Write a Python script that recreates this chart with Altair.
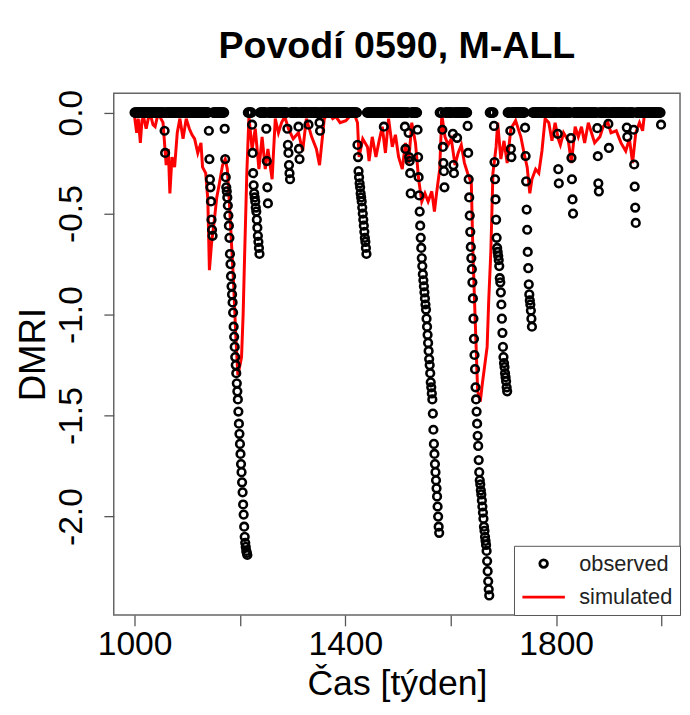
import altair as alt
import pandas as pd

TITLE = "Povodí 0590, M-ALL"
X_TITLE = "Čas [týden]"
Y_TITLE = "DMRI"
SERIES = ["observed", "simulated"]
SERIES_COLORS = ["black", "red"]
X_TICKS = [1000, 1200, 1400, 1600, 1800, 2000]
X_TICKS_LABELED = [1000, 1400, 1800]
Y_TICKS = [-2.0, -1.5, -1.0, -0.5, 0.0]

# observed DMRI: weekly, 0 outside the drought episodes listed below
obs_first_week = 1000
obs_last_week = 1999
episode_start = [1057, 1141, 1171, 1223, 1250, 1290, 1311, 1330, 1351, 1423,
                 1473, 1513, 1520, 1537, 1584, 1604, 1612, 1632, 1682, 1713,
                 1741, 1803, 1828, 1878, 1899, 1934, 1947, 1999]
episode_values = [
    [-0.09, -0.20],
    [-0.09, -0.23, -0.33, -0.37, -0.44, -0.53, -0.58, -0.61],
    [-0.08, -0.23, -0.32, -0.37, -0.39, -0.42, -0.46, -0.51, -0.56, -0.62, -0.70,
     -0.75, -0.81, -0.86, -0.90, -0.94, -0.99, -1.06, -1.11, -1.16, -1.21, -1.25,
     -1.29, -1.34, -1.38, -1.42, -1.48, -1.54, -1.59, -1.64, -1.69, -1.74, -1.78,
     -1.83, -1.88, -1.94, -1.99, -2.05, -2.10, -2.13, -2.15, -2.17, -2.18, -2.19],
    [-0.06, -0.20, -0.30, -0.36, -0.40, -0.42, -0.44, -0.47, -0.49, -0.53, -0.57,
     -0.61, -0.64, -0.67, -0.70],
    [-0.08, -0.24, -0.37, -0.45],
    [-0.08, -0.16, -0.20, -0.26, -0.30, -0.33],
    [-0.07, -0.18, -0.23],
    [-0.06],
    [-0.05, -0.09],
    [-0.16, -0.22, -0.29, -0.32, -0.35, -0.37, -0.40, -0.42, -0.44, -0.47, -0.50,
     -0.53, -0.56, -0.59, -0.62, -0.64, -0.67, -0.70],
    [-0.07],
    [-0.07, -0.18],
    [-0.10, -0.22, -0.24, -0.30, -0.40],
    [-0.085, -0.22, -0.32, -0.41, -0.49, -0.56, -0.62, -0.67, -0.72, -0.76, -0.80,
     -0.83, -0.86, -0.89, -0.92, -0.95, -0.975, -1.02, -1.06, -1.10, -1.14, -1.18,
     -1.22, -1.25, -1.29, -1.335, -1.36, -1.39, -1.42, -1.49, -1.57, -1.64, -1.69,
     -1.74, -1.78, -1.82, -1.86, -1.90, -1.95, -2.00, -2.05, -2.08],
    [-0.085, -0.17, -0.25, -0.29, -0.37],
    [-0.105, -0.26, -0.30],
    [-0.125],
    [-0.066, -0.20, -0.33, -0.42, -0.51, -0.59, -0.665, -0.72, -0.775, -0.84, -0.92,
     -1.02, -1.12, -1.20, -1.27, -1.36, -1.42, -1.48, -1.54, -1.60, -1.65, -1.72,
     -1.78, -1.82, -1.84, -1.87, -1.89, -1.92, -1.95, -1.98, -2.01, -2.05, -2.07,
     -2.10, -2.12, -2.14, -2.17, -2.22, -2.27, -2.32, -2.36, -2.39],
    [-0.066, -0.245, -0.33, -0.43, -0.53, -0.62, -0.67, -0.69, -0.71, -0.73, -0.76,
     -0.82, -0.84, -0.89, -0.95, -1.02, -1.09, -1.16, -1.21, -1.24, -1.26, -1.29,
     -1.31, -1.33, -1.36, -1.38],
    [-0.09, -0.18, -0.22],
    [-0.075, -0.215, -0.34, -0.48, -0.58, -0.69, -0.77, -0.85, -0.90, -0.93, -0.95,
     -0.98, -1.02, -1.06],
    [-0.105, -0.28, -0.35],
    [-0.126, -0.224, -0.33, -0.43, -0.50],
    [-0.077, -0.216, -0.35, -0.39],
    [-0.056, -0.175],
    [-0.074, -0.12],
    [-0.085, -0.257, -0.366, -0.47, -0.546],
    [-0.06],
]

# simulated DMRI (vertices of the red line)
sim_week = [1000, 1004, 1007, 1011, 1014, 1017, 1022, 1026, 1031, 1035, 1039, 1045,
            1050, 1054, 1060, 1064, 1067, 1071, 1076, 1081, 1086, 1092, 1098, 1104,
            1109, 1114, 1120, 1126, 1129, 1135, 1139, 1142, 1146, 1151, 1156, 1161,
            1167, 1172, 1176, 1180, 1184, 1188, 1192, 1196, 1200, 1203, 1206, 1209,
            1213, 1217, 1223, 1229, 1236, 1242, 1248, 1253, 1261, 1267, 1273, 1279,
            1285, 1292, 1301, 1311, 1319, 1326, 1336, 1345, 1351, 1360, 1369, 1376,
            1382, 1390, 1401, 1408, 1416, 1423, 1426, 1433, 1442, 1445, 1451, 1458,
            1464, 1470, 1476, 1482, 1489, 1495, 1501, 1508, 1514, 1520, 1526, 1533,
            1539, 1545, 1551, 1557, 1564, 1569, 1573, 1579, 1583, 1589, 1595, 1601,
            1608, 1614, 1620, 1626, 1632, 1639, 1642, 1646, 1651, 1656, 1660, 1664,
            1669, 1672, 1676, 1680, 1686, 1689, 1695, 1701, 1707, 1714, 1723, 1733,
            1739, 1745, 1750, 1754, 1761, 1767, 1773, 1779, 1786, 1792, 1798, 1804,
            1808, 1814, 1823, 1829, 1836, 1842, 1848, 1854, 1861, 1867, 1873, 1883,
            1889, 1898, 1904, 1914, 1923, 1932, 1939, 1945, 1951, 1958, 1964, 1967]
sim_value = [-0.02, -0.10, -0.03, -0.15, -0.04, -0.02, -0.08, -0.03, -0.02, -0.06, -0.07, 0.0,
             -0.03, -0.05, -0.26, -0.18, -0.40, -0.22, -0.27, -0.10, -0.03, -0.13, -0.03, -0.08,
             -0.11, -0.13, -0.20, -0.15, -0.27, -0.30, -0.43, -0.78, -0.65, -0.54, -0.42, -0.35,
             -0.26, -0.23, -0.28, -0.45, -0.65, -0.85, -1.10, -1.30, -1.25, -1.21, -1.00, -0.69,
             -0.30, -0.02, -0.18, -0.08, -0.28, -0.12, -0.28, -0.18, -0.33, -0.03, -0.10, -0.05,
             -0.02, -0.08, -0.13, -0.10, -0.19, -0.03, -0.12, -0.18, -0.26, -0.03, 0.0, -0.03,
             -0.02, -0.05, -0.04, -0.02, 0.0, -0.05, -0.22, -0.13, -0.17, -0.24, -0.12, -0.22,
             -0.14, -0.07, -0.20, -0.03, -0.17, -0.11, -0.22, -0.28, -0.15, -0.25, -0.05, -0.15,
             -0.33, -0.44, -0.40, -0.44, -0.39, -0.49, -0.40, -0.28, -0.01, -0.12, -0.16, -0.13,
             -0.26, -0.20, -0.16, -0.25, -0.30, -0.35, -0.69, -1.00, -1.38, -1.43, -1.34, -1.26,
             -1.16, -0.93, -0.69, -0.30, -0.17, -0.05, -0.23, -0.14, -0.25, -0.08, -0.04, -0.12,
             -0.20, -0.27, -0.40, -0.33, -0.28, -0.30, -0.19, -0.03, -0.05, -0.14, -0.05, -0.13,
             -0.16, -0.10, -0.14, -0.25, -0.07, -0.12, -0.07, -0.15, -0.05, -0.10, -0.15, -0.12,
             -0.07, -0.05, -0.10, -0.09, -0.15, -0.19, -0.13, -0.25, -0.10, -0.05, -0.09, -0.02]

# ---- tables ----
obs = {w: 0.0 for w in range(obs_first_week, obs_last_week + 1)}
for start, vals in zip(episode_start, episode_values):
    for i, v in enumerate(vals):
        obs[start + i] = v
obs_df = pd.DataFrame({"week": list(obs.keys()), "value": list(obs.values()),
                       "series": SERIES[0]})
sim_df = pd.DataFrame({"week": sim_week, "value": sim_value, "series": SERIES[1]})

FONT = "Liberation Sans"
x_scale = alt.Scale(domain=[960.5, 2035], nice=False, zero=False)
y_scale = alt.Scale(domain=[-2.487, 0.096], nice=False, zero=False)

labeled = ",".join(str(v) for v in X_TICKS_LABELED)
x_axis = alt.Axis(
    values=X_TICKS, title=X_TITLE, grid=False, domain=False,
    labelExpr=f"indexof([{labeled}], datum.value) >= 0 ? format(datum.value, 'd') : ''",
    labelFont=FONT, labelFontSize=34, labelColor="black", labelPadding=2,
    labelFlush=False, labelOverlap=False,
    tickSize=11, tickColor="#555", tickWidth=1.3,
    titleFont=FONT, titleFontSize=36, titleFontWeight="normal", titleColor="black",
    titleBaseline="alphabetic", titleY=80,
)
y_axis = alt.Axis(
    values=Y_TICKS, title=Y_TITLE, grid=False, domain=False,
    labelExpr="replace(format(datum.value, '.1f'), '\u2212', '-')",
    labelFont=FONT, labelFontSize=34, labelColor="black", labelAngle=270,
    labelAlign="center", labelBaseline="alphabetic", labelPadding=23,
    labelFlush=False, labelOverlap=False,
    tickSize=10, tickColor="#555", tickWidth=1.3,
    titleFont=FONT, titleFontSize=37, titleFontWeight="normal", titleColor="black",
    titleAngle=270, titleAlign="center", titleBaseline="alphabetic",
    titleX=-70, titleY=264,
)

color = alt.Color("series:N", title=None,
                  scale=alt.Scale(domain=SERIES, range=SERIES_COLORS),
                  legend=alt.Legend(orient="bottom-right", offset=0, padding=7,
                                    strokeColor="#555", fillColor="white",
                                    labelFont=FONT, labelFontSize=22, labelColor="#222",
                                    labelOffset=13, symbolStrokeWidth=2.8,
                                    rowPadding=0, labelLimit=200))

line = alt.Chart(sim_df).mark_line(strokeWidth=3, color="red").encode(
    x=alt.X("week:Q", scale=x_scale, axis=x_axis),
    y=alt.Y("value:Q", scale=y_scale, axis=y_axis),
    color=color,
)

points = alt.Chart(obs_df).mark_point(filled=False, strokeWidth=2.6, opacity=1).encode(
    x=alt.X("week:Q", scale=x_scale),
    y=alt.Y("value:Q", scale=y_scale),
    color=color,
    shape=alt.Shape("series:N", title=None,
                    scale=alt.Scale(domain=SERIES, range=["circle", "stroke"])),
    size=alt.Size("series:N", title=None,
                  scale=alt.Scale(type="point", padding=0, domain=SERIES, range=[60, 1849])),
)

chart = alt.layer(line, points).properties(
    width=573, height=528,
    title=alt.TitleParams(TITLE, font=FONT, fontSize=38, fontWeight="bold",
                          color="black", anchor="middle", frame="group",
                          baseline="alphabetic", offset=0, dy=6),
    autosize=alt.AutoSizeParams(type="none"),
    padding={"left": 107, "top": 82, "right": 2, "bottom": 97},
).configure_view(stroke="#666", strokeWidth=1.5)

chart.save("out.html", embed_options={"renderer": "svg", "actions": False})
